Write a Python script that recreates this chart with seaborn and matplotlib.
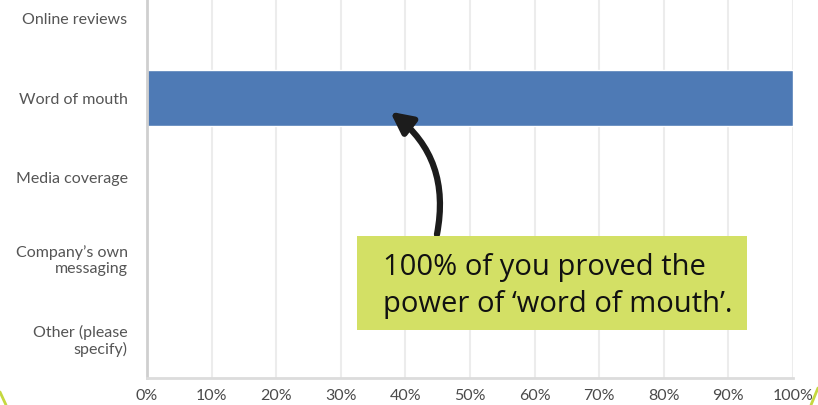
import matplotlib
matplotlib.use('Agg')
from matplotlib import pyplot as plt
from matplotlib.patches import Rectangle
from matplotlib.lines import Line2D
import seaborn as sns
import pandas as pd

categories = ['Online reviews', 'Word of mouth', 'Media coverage',
              'Company\u2019s own\nmessaging', 'Other (please\nspecify)']
percent = [0, 100, 0, 0, 0]
xticks = [0, 10, 20, 30, 40, 50, 60, 70, 80, 90, 100]
note = '100% of you proved the\npower of \u2018word of mouth\u2019.'

data = pd.DataFrame({'source': categories, 'percent': percent})

sns.set_style('white')
plt.rcParams['font.family'] = ['Lato', 'DejaVu Sans']

fig = plt.figure(figsize=(8.18, 4.05), dpi=100)
ax = fig.add_axes([147 / 818, 27 / 405, 646 / 818, 378 / 405])

sns.barplot(data=data, x='percent', y='source', orient='h',
            color='#4E7AB5', width=0.69, saturation=1, ax=ax)

ax.set_xlim(0, 100)
ax.set_ylim(4.5, -0.225)
ax.set_xticks(xticks)
ax.set_xticklabels([f'{t}%' for t in xticks])
ax.set_xlabel('')
ax.set_ylabel('')
ax.xaxis.grid(True, color='#ececec', lw=1.5)
ax.set_axisbelow(True)
ax.tick_params(axis='both', length=0, labelcolor='#555555')
ax.tick_params(axis='y', pad=14, labelsize=11.5)
ax.tick_params(axis='x', pad=8, labelsize=11.5, labelcolor='#4a4a4a')
for s in ['top', 'right']:
    ax.spines[s].set_visible(False)
ax.spines['left'].set_color('#cfcfcf')
ax.spines['left'].set_linewidth(2)
ax.spines['bottom'].set_color('#dcdcdc')
ax.spines['bottom'].set_linewidth(2)

# callout box
fig.patches.append(Rectangle((357 / 818, 1 - 330 / 405), 390 / 818, 94 / 405,
                             transform=fig.transFigure, facecolor='#D3E065',
                             edgecolor='none', zorder=5))
fig.text(383 / 818, 1 - 286 / 405, note, fontsize=21, family='Open Sans',
         color='#111111', va='center', ha='left', linespacing=1.33, zorder=6)

# curved arrow pointing at the bar
ax.annotate('', xy=(37.3, 1.15), xytext=(44.8, 2.74),
            arrowprops=dict(arrowstyle='-|>', connectionstyle='arc3,rad=0.32',
                            lw=4.5, color='#1c1c1c', mutation_scale=32),
            annotation_clip=False, zorder=7)

# slide border fragments
fig.lines.append(Line2D([0, 6 / 818], [1 - 392 / 405, 0], transform=fig.transFigure,
                        color='#C5D840', lw=2))
fig.lines.append(Line2D([811 / 818, 818 / 818], [0, 1 - 388 / 405], transform=fig.transFigure,
                        color='#C5D840', lw=2))

fig.savefig('out.png', dpi=100)
